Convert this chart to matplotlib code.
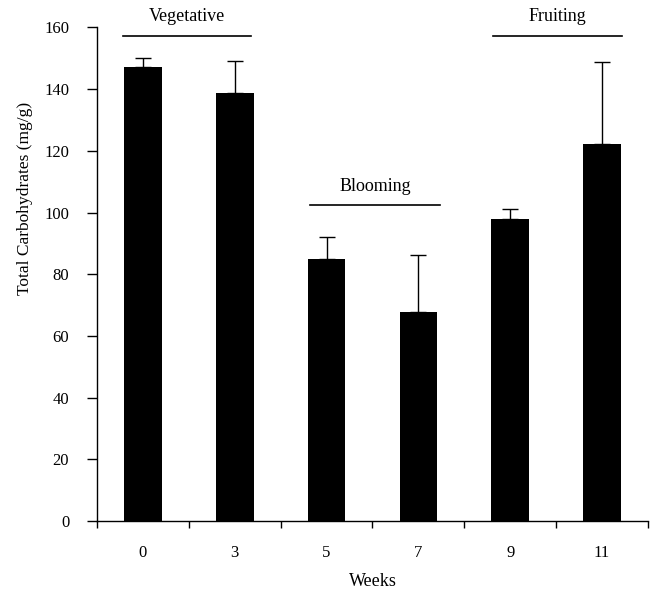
import matplotlib
matplotlib.use("Agg")
import matplotlib.pyplot as plt
import numpy as np

weeks = ["0", "3", "5", "7", "9", "11"]
means = [147.1, 138.8, 85.0, 67.9, 97.9, 122.3]
err_upper = [3.1, 10.2, 7.0, 18.5, 3.4, 26.4]

stages = ["Vegetative", "Blooming", "Fruiting"]
stage_start = [-0.22, 1.82, 3.81]
stage_end = [1.18, 3.24, 5.22]
stage_level = [157.4, 102.4, 157.4]

plt.rcParams['font.family'] = ['Liberation Serif', 'DejaVu Serif']

fig = plt.figure(figsize=(6.52, 5.91), dpi=100)
ax = fig.add_axes([0.1488, 0.1184, 0.845, 0.8351])

x = np.arange(len(weeks))
ax.bar(x, means, width=0.41, color='black', zorder=2)
ax.errorbar(x, means, yerr=[np.zeros(len(means)), err_upper], fmt='none',
            ecolor='black', elinewidth=1.0, capsize=6, capthick=1.0, zorder=1)

for name, s, e, lvl in zip(stages, stage_start, stage_end, stage_level):
    ax.plot([s, e], [lvl, lvl], color='black', lw=1.2, clip_on=False)
    ax.text((s + e) / 2, lvl + 3.3, name, ha='center', va='bottom', fontsize=13)

ax.set_xlim(-0.5, len(weeks) - 0.5)
ax.set_ylim(0, 160)
ax.set_yticks(np.arange(0, 161, 20))
ax.set_xticks(x)
ax.set_xticklabels(weeks)
ax.set_xticks(np.arange(-0.5, len(weeks), 1.0), minor=True)
ax.tick_params(axis='x', which='major', length=0, pad=17, labelsize=12)
ax.tick_params(axis='x', which='minor', length=5, direction='out', width=1)
ax.tick_params(axis='y', length=7, direction='out', width=1, labelsize=12, pad=13)

for sp in ['top', 'right']:
    ax.spines[sp].set_visible(False)
for sp in ['left', 'bottom']:
    ax.spines[sp].set_linewidth(1.0)

ax.set_xlabel("Weeks", fontsize=13)
ax.xaxis.set_label_coords(0.5, -0.106)
ax.set_ylabel("Total Carbohydrates (mg/g)", fontsize=12.5)
ax.yaxis.set_label_coords(-0.116, 0.654)

fig.savefig("out.png", dpi=100)
